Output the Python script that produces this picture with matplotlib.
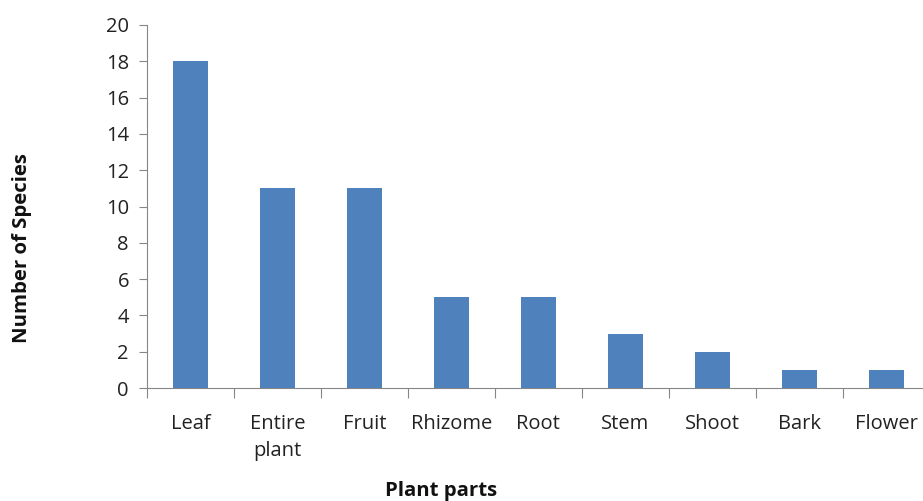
import numpy as np
import matplotlib
matplotlib.use("Agg")
import matplotlib.pyplot as plt

parts = ["Leaf", "Entire\nplant", "Fruit", "Rhizome", "Root", "Stem", "Shoot", "Bark", "Flower"]
n_species = [18, 11, 11, 5, 5, 3, 2, 1, 1]

plt.rcParams['font.family'] = ["Open Sans", "DejaVu Sans"]

fig = plt.figure(figsize=(9.23, 5.01), dpi=100)
ax = fig.add_axes([0.1593, 0.2255, 0.848, 0.7246])

x = np.arange(len(parts))
ax.bar(x, n_species, width=0.4, color="#4F81BD", zorder=3)

ax.set_xlim(-0.5, len(parts) - 0.5)
ax.set_ylim(0, 20)
ax.set_yticks(np.arange(0, 21, 2))
ax.tick_params(axis="y", direction="out", length=6, color="#868686",
               labelsize=14.5, labelcolor="#222222", pad=7)

# category boundaries as ticks, labels centred in between
ax.set_xticks(np.arange(-0.5, len(parts), 1.0))
ax.set_xticklabels([])
ax.set_xticks(x, minor=True)
ax.set_xticklabels(parts, minor=True, fontsize=14.5, color="#222222",
                   va="top", linespacing=1.45)
ax.tick_params(axis="x", which="major", direction="out", length=7, color="#868686")
ax.tick_params(axis="x", which="minor", length=0, pad=19)

for side in ["top", "right"]:
    ax.spines[side].set_visible(False)
for side in ["left", "bottom"]:
    ax.spines[side].set_color("#868686")

fig.text(0.024, 0.504, "Number of Species", rotation=90, ha="center", va="center",
         fontsize=14.7, fontweight="bold", color="#111111")
fig.text(0.478, 0.020, "Plant parts", ha="center", va="center",
         fontsize=14.7, fontweight="bold", color="#111111")

fig.savefig("out.png", dpi=100)
